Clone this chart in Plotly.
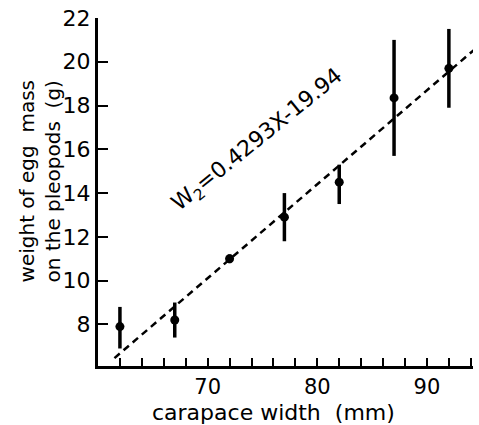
import plotly.graph_objects as go

# data
carapace_width = [62, 67, 72, 77, 82, 87, 92]
egg_weight = [7.9, 8.2, 11.0, 12.9, 14.5, 18.35, 19.7]
err_high = [8.8, 9.0, 11.2, 14.0, 15.3, 21.0, 21.5]
err_low = [6.9, 7.4, 10.8, 11.8, 13.5, 15.7, 17.9]
slope = 0.4293
intercept = -19.94
line_x = [61.5, 94.3]
x_ticks = [62, 64, 66, 68, 70, 72, 74, 76, 78, 80, 82, 84, 86, 88, 90, 92, 94]
x_tick_labels = ["" if v % 10 else str(v) for v in x_ticks]
y_ticks = [8, 10, 12, 14, 16, 18, 20, 22]
x_title = "carapace width  (mm)"
y_title = "weight of egg  mass<br>on the pleopods  (g)"

line_y = [slope * v + intercept for v in line_x]
plus = [h - m for h, m in zip(err_high, egg_weight)]
minus = [m - l for m, l in zip(egg_weight, err_low)]

font = "DejaVu Sans"

fig = go.Figure()
fig.add_trace(go.Scatter(
    x=line_x, y=line_y, mode="lines",
    line=dict(color="black", width=2.5, dash="7px,5px"),
    hoverinfo="skip"))
fig.add_trace(go.Scatter(
    x=carapace_width, y=egg_weight, mode="markers",
    marker=dict(color="black", size=9),
    error_y=dict(type="data", symmetric=False, array=plus, arrayminus=minus,
                 color="black", thickness=3.5, width=0)))

fig.add_annotation(
    x=74.6, y=16.4, xref="x", yref="y", xanchor="center", yanchor="middle",
    text="W<sub>2</sub>=0.4293X-19.94", showarrow=False,
    textangle=-39, font=dict(family=font, size=22, color="black"))

# axis titles
fig.add_annotation(
    x=-0.155, y=0.53, xref="paper", yref="paper", xanchor="center", yanchor="middle",
    text=y_title, showarrow=False, textangle=-90,
    font=dict(family=font, size=20, color="black"))
fig.add_annotation(
    x=0.469, y=-0.133, xref="paper", yref="paper", xanchor="center", yanchor="middle",
    text=x_title, showarrow=False,
    font=dict(family=font, size=22, color="black"))

fig.update_layout(
    width=479, height=425,
    margin=dict(l=98, r=6, t=18, b=59),
    paper_bgcolor="white", plot_bgcolor="white",
    showlegend=False,
    font=dict(family=font, color="black", size=21),
    xaxis=dict(
        range=[60, 94.2], tickmode="array", tickvals=x_ticks, ticktext=x_tick_labels,
        ticks="inside", ticklen=8, tickwidth=2, tickcolor="black",
        showline=True, linecolor="black", linewidth=3, showgrid=False, zeroline=False,
        tickfont=dict(size=21)),
    yaxis=dict(
        range=[6.1, 22], tickmode="array", tickvals=y_ticks,
        ticks="inside", ticklen=10, tickwidth=2, tickcolor="black",
        showline=True, linecolor="black", linewidth=3, showgrid=False, zeroline=False,
        tickfont=dict(size=22)),
)

fig.write_html("out.html")
